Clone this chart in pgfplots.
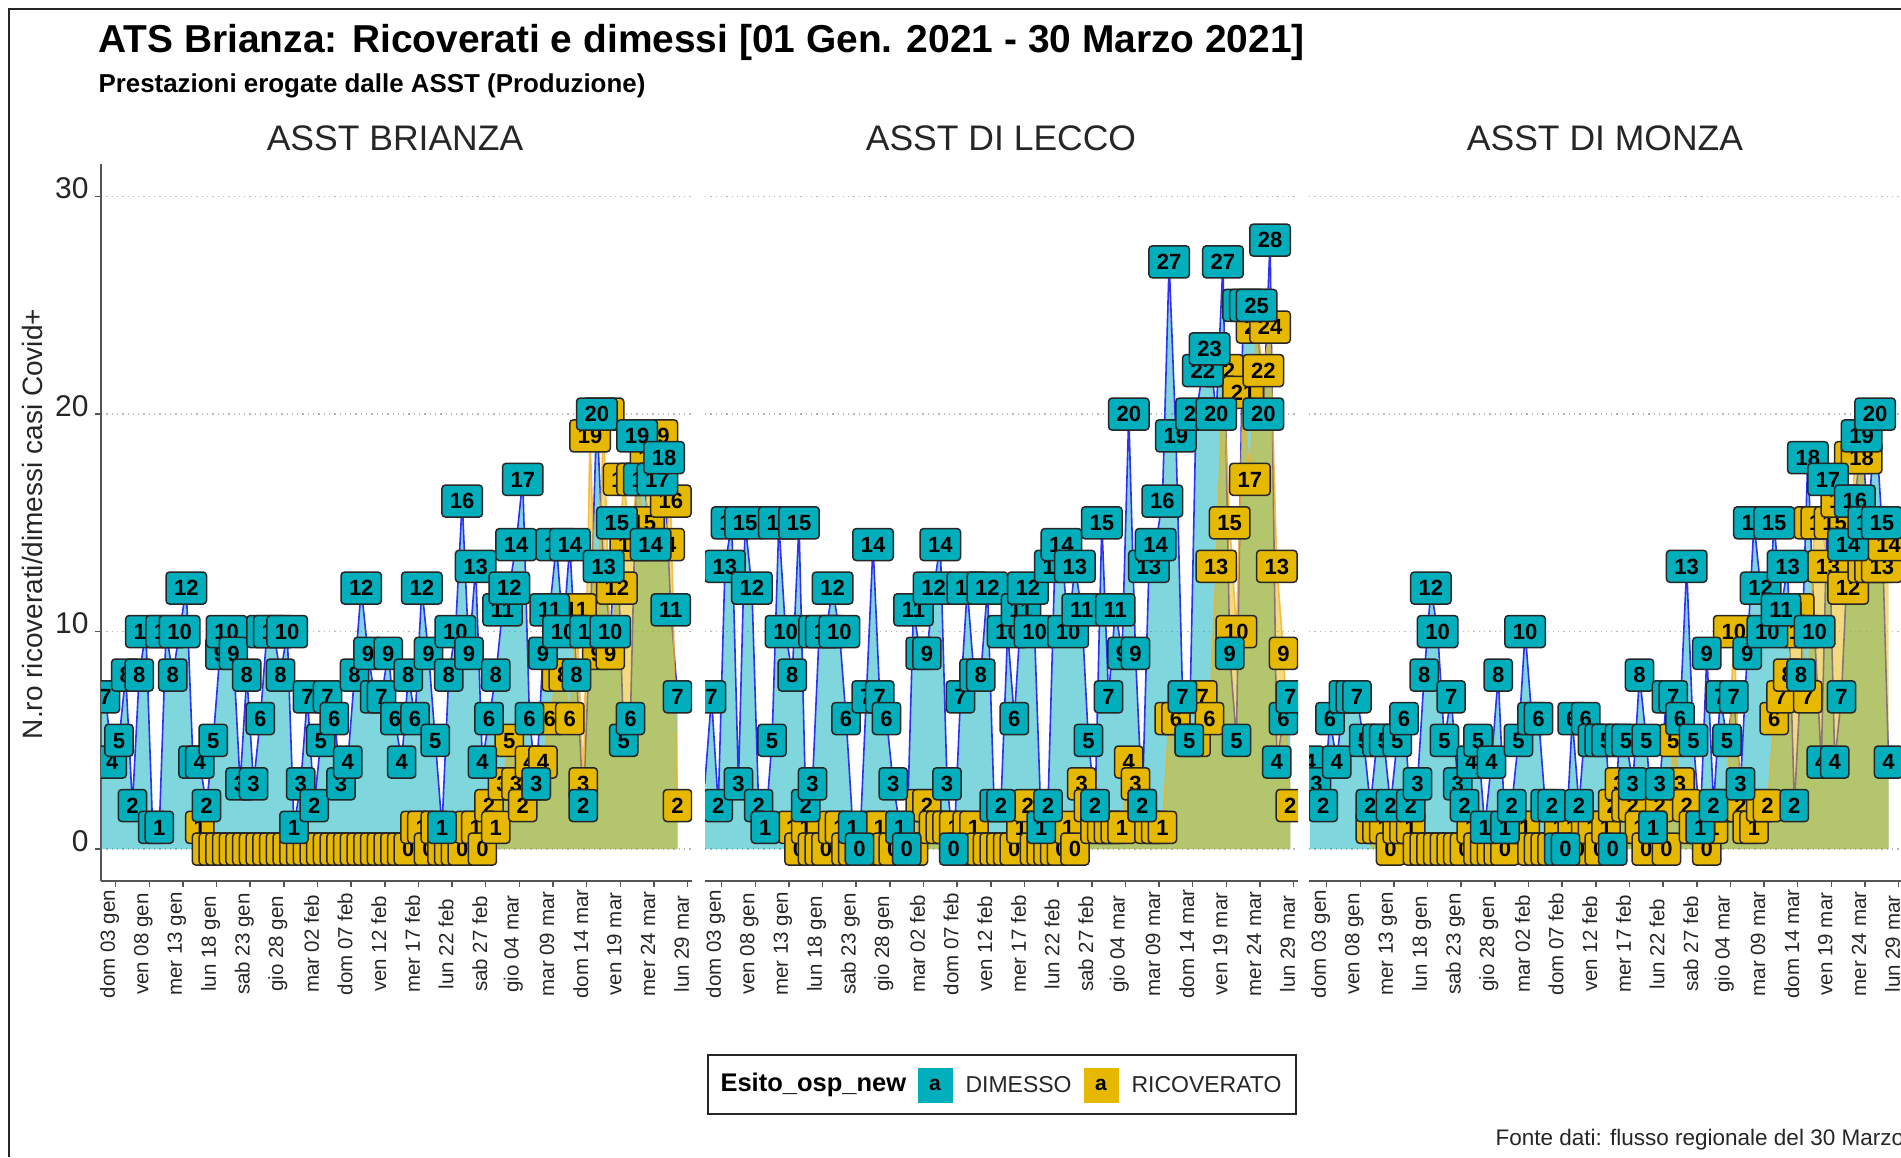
\documentclass[border=0pt]{standalone}
\usepackage{fontspec}
\setmainfont{Liberation Sans}
\usepackage{pgfplots}
\usepackage{pgfplotstable}
\pgfplotsset{compat=1.18}
\definecolor{tealc}{HTML}{00AFBB}
\definecolor{yelc}{HTML}{E7B800}
\definecolor{bluec}{HTML}{2F2FF5}
\definecolor{oranc}{HTML}{F5AE20}
\definecolor{axc}{HTML}{555555}

% ASST BRIANZA
\pgfplotstableread[row sep=\\]{x y\\
0 6\\1 7\\2 4\\3 5\\4 8\\5 2\\6 8\\7 10\\8 1\\9 1\\10 10\\11 8\\12 10\\13 12\\14 4\\15 4\\16 2\\17 5\\18 9\\19 10\\20 9\\21 3\\22 8\\23 3\\24 6\\25 10\\26 10\\27 8\\28 10\\29 1\\30 3\\31 7\\32 2\\33 5\\34 7\\35 6\\36 3\\37 4\\38 8\\39 12\\40 9\\41 7\\42 7\\43 9\\44 6\\45 4\\46 8\\47 6\\48 12\\49 9\\50 5\\51 1\\52 8\\53 10\\54 16\\55 9\\56 13\\57 4\\58 6\\59 8\\60 11\\61 12\\62 14\\63 17\\64 6\\65 3\\66 9\\67 11\\68 14\\69 10\\70 14\\71 8\\72 2\\73 10\\74 20\\75 13\\76 10\\77 15\\78 5\\79 6\\80 19\\81 17\\82 14\\83 17\\84 18\\85 11\\86 7\\
}\dimA
\pgfplotstableread[row sep=\\]{x y\\
15 1\\16 0\\17 0\\18 0\\19 0\\20 0\\21 0\\22 0\\23 0\\24 0\\25 0\\26 0\\27 0\\28 0\\29 0\\30 0\\31 0\\32 0\\33 0\\34 0\\35 0\\36 0\\37 0\\38 0\\39 0\\40 0\\41 0\\42 0\\43 0\\44 0\\45 0\\46 0\\47 1\\48 1\\49 0\\50 1\\51 0\\52 0\\53 0\\54 0\\55 1\\56 1\\57 0\\58 2\\59 1\\60 3\\61 5\\62 3\\63 2\\64 4\\65 3\\66 4\\67 6\\68 8\\69 8\\70 6\\71 11\\72 3\\73 19\\74 9\\75 20\\76 9\\77 12\\78 17\\79 14\\80 17\\81 15\\82 18\\83 19\\84 14\\85 16\\86 2\\
}\ricA
% ASST DI LECCO
\pgfplotstableread[row sep=\\]{x y\\
0 3\\1 7\\2 2\\3 13\\4 15\\5 3\\6 15\\7 12\\8 2\\9 1\\10 5\\11 15\\12 10\\13 8\\14 15\\15 2\\16 3\\17 10\\18 10\\19 12\\20 10\\21 6\\22 1\\23 0\\24 7\\25 14\\26 7\\27 6\\28 3\\29 1\\30 0\\31 11\\32 9\\33 9\\34 12\\35 14\\36 3\\37 0\\38 7\\39 12\\40 8\\41 8\\42 12\\43 2\\44 2\\45 10\\46 6\\47 11\\48 12\\49 10\\50 1\\51 2\\52 13\\53 14\\54 10\\55 13\\56 11\\57 5\\58 2\\59 15\\60 7\\61 11\\62 9\\63 20\\64 9\\65 2\\66 13\\67 14\\68 16\\69 27\\70 19\\71 7\\72 5\\73 20\\74 22\\75 23\\76 20\\77 27\\78 9\\79 5\\80 25\\81 25\\82 25\\83 20\\84 28\\85 4\\86 6\\87 7\\
}\dimB
\pgfplotstableread[row sep=\\]{x y\\
13 1\\14 0\\15 1\\16 0\\17 0\\18 0\\19 1\\20 1\\21 0\\22 0\\23 0\\24 0\\25 1\\26 1\\27 0\\28 0\\29 1\\30 0\\31 0\\32 2\\33 2\\34 1\\35 1\\36 1\\37 1\\38 0\\39 1\\40 1\\41 0\\42 0\\43 0\\44 0\\45 0\\46 0\\47 1\\48 2\\49 0\\50 0\\51 0\\52 0\\53 0\\54 1\\55 0\\56 3\\57 2\\58 1\\59 1\\60 1\\61 1\\62 1\\63 4\\64 3\\65 2\\66 1\\67 1\\68 1\\69 6\\70 6\\71 7\\72 5\\73 5\\74 7\\75 6\\76 13\\77 22\\78 15\\79 10\\80 21\\81 17\\82 24\\83 22\\84 24\\85 13\\86 9\\87 2\\
}\ricB
% ASST DI MONZA
\pgfplotstableread[row sep=\\]{x y\\
0 4\\1 3\\2 2\\3 6\\4 4\\5 7\\6 7\\7 7\\8 5\\9 2\\10 5\\11 5\\12 2\\13 5\\14 6\\15 2\\16 3\\17 8\\18 12\\19 10\\20 5\\21 7\\22 3\\23 2\\24 4\\25 5\\26 1\\27 4\\28 8\\29 1\\30 2\\31 5\\32 10\\33 6\\34 6\\35 2\\36 2\\37 0\\38 0\\39 6\\40 2\\41 6\\42 5\\43 5\\44 5\\45 0\\46 5\\47 5\\48 3\\49 8\\50 5\\51 1\\52 3\\53 7\\54 7\\55 6\\56 13\\57 5\\58 1\\59 9\\60 2\\61 7\\62 5\\63 7\\64 3\\65 9\\66 15\\67 12\\68 10\\69 15\\70 11\\71 13\\72 2\\73 8\\74 18\\75 10\\76 4\\77 17\\78 4\\79 7\\80 14\\81 16\\82 19\\83 15\\84 20\\85 15\\86 4\\
}\dimC
\pgfplotstableread[row sep=\\]{x y\\
9 1\\10 1\\11 1\\12 0\\13 1\\14 1\\15 1\\16 0\\17 0\\18 0\\19 0\\20 0\\21 0\\22 0\\23 0\\24 1\\25 0\\26 0\\27 0\\28 0\\29 0\\30 1\\31 1\\32 1\\33 0\\34 0\\35 0\\36 0\\37 1\\38 0\\39 1\\40 0\\41 1\\42 1\\43 0\\44 1\\45 2\\46 3\\47 2\\48 2\\49 1\\50 0\\51 1\\52 2\\53 0\\54 5\\55 3\\56 2\\57 1\\58 1\\59 0\\60 1\\61 2\\62 2\\63 10\\64 2\\65 1\\66 1\\67 2\\68 2\\69 6\\70 7\\71 8\\72 11\\73 10\\74 7\\75 15\\76 15\\77 13\\78 15\\79 16\\80 12\\81 18\\82 18\\83 13\\84 13\\85 13\\86 14\\
}\ricC

\tikzset{
  lab/.style={font=\fontsize{22}{24}\selectfont\bfseries, text=black, anchor=center,
    draw=black!85, line width=1.5pt, rounded corners=3.5pt,
    inner xsep=8pt, inner ysep=0pt, minimum height=32pt, text height=15.5pt, text depth=0pt},
}
\pgfplotsset{
  panel/.style={
    scale only axis, height=717pt,
    anchor=south west,
    clip mode=individual, clip marker paths=true,
    xmin=0.33, ymin=-1.47, ymax=31.5,
    axis x line=bottom, axis y line=left,
    axis line style={draw=axc, line width=1.5pt, -},
    xtick={2.5,7.5,12.5,17.5,22.5,27.5,32.5,37.5,42.5,47.5,52.5,57.5,62.5,67.5,72.5,77.5,82.5,87.5},
    xticklabels={dom 03 gen,ven 08 gen,mer 13 gen,lun 18 gen,sab 23 gen,gio 28 gen,mar 02 feb,dom 07 feb,ven 12 feb,mer 17 feb,lun 22 feb,sab 27 feb,gio 04 mar,mar 09 mar,dom 14 mar,ven 19 mar,mer 24 mar,lun 29 mar},
    xticklabel style={anchor=center, xshift=-6pt, yshift=-57pt, rotate=90, font=\fontsize{20.5}{24}\selectfont, text=black!85},
    yticklabel style={font=\fontsize{30}{34}\selectfont, text=black!85, yshift=8pt, xshift=-3pt},
    ytick={0,10,20,30},
    tick align=outside, major tick length=6pt,
    tick style={draw=axc, line width=1.5pt},
    ymajorgrids,
    grid style={draw=black!28, line width=1.3pt, dash pattern=on 1.3pt off 4pt},
    /pgf/number format/assume math mode=true,
  },
  noy/.style={y axis line style={draw=none}, y tick style={draw=none}, yticklabels={}},
}
\newcommand{\series}[2]{%
  \addplot[forget plot, draw=none, fill=tealc, fill opacity=0.5] table[x=x,y=y]{#1} \closedcycle;
  \addplot[forget plot, draw=bluec, line width=1.6pt, mark=none] table[x=x,y=y]{#1};
  \addplot[forget plot, draw=none, fill=yelc, fill opacity=0.5] table[x=x,y=y]{#2} \closedcycle;
  \addplot[forget plot, draw=oranc, draw opacity=0.75, line width=1.6pt, mark=none] table[x=x,y=y]{#2};
  \addplot[forget plot, draw=none, mark=none, point meta=y, nodes near coords, nodes near coords style={lab, fill=yelc}] table[x=x,y=y]{#2};
  \addplot[forget plot, draw=none, mark=none, point meta=y, nodes near coords, nodes near coords style={lab, fill=tealc}] table[x=x,y=y]{#1};
}

\begin{document}
\begin{tikzpicture}[x=1pt,y=1pt]
\path[use as bounding box] (0,0) rectangle (1901,1157);
\fill[white] (0,0) rectangle (1901,1157);
\draw[black!85, line width=2pt] (9,0) -- (9,1148) -- (1901,1148);

\begin{axis}[panel, at={(101pt,276pt)}, width=591pt, xmax=88.15]
\series{\dimA}{\ricA}
\end{axis}
\begin{axis}[panel, noy, at={(705pt,276pt)}, width=593pt, xmin=0.033, xmax=88.15]
\series{\dimB}{\ricB}
\end{axis}
\begin{axis}[panel, noy, at={(1309pt,276pt)}, width=592pt, xmin=-0.116, xmax=87.85]
\series{\dimC}{\ricC}
\end{axis}

\node[anchor=west, font=\fontsize{38.9}{44}\selectfont\bfseries] at (95,1115) {ATS Brianza: Ricoverati e dimessi [01 Gen. 2021 - 30 Marzo 2021]};
\node[anchor=west, font=\fontsize{25.9}{30}\selectfont\bfseries] at (95,1071) {Prestazioni erogate dalle ASST (Produzione)};
\node[font=\fontsize{35.5}{40}\selectfont, text=black!85] at (395,1019) {ASST BRIANZA};
\node[font=\fontsize{35.5}{40}\selectfont, text=black!85] at (1001,1019) {ASST DI LECCO};
\node[font=\fontsize{35.5}{40}\selectfont, text=black!85] at (1605,1019) {ASST DI MONZA};
\node[rotate=90, font=\fontsize{28}{32}\selectfont, text=black!85] at (32,633) {N.ro ricoverati/dimessi casi Covid+};

\draw[black!85, line width=1.8pt] (708,43) rectangle (1296,102);
\node[anchor=west, font=\fontsize{25.5}{30}\selectfont\bfseries] at (717,72) {Esito\_osp\_new};
\node[fill=tealc, minimum width=35pt, minimum height=35pt, inner sep=0pt, font=\fontsize{21}{24}\selectfont\bfseries] at (935,72) {a};
\node[anchor=west, font=\fontsize{23}{28}\selectfont, text=black!85] at (962,72) {DIMESSO};
\node[fill=yelc, minimum width=35pt, minimum height=35pt, inner sep=0pt, font=\fontsize{21}{24}\selectfont\bfseries] at (1101,72) {a};
\node[anchor=west, font=\fontsize{23}{28}\selectfont, text=black!85] at (1128,72) {RICOVERATO};
\node[anchor=west, font=\fontsize{22.5}{28}\selectfont, text=black!85] at (1492,17) {Fonte dati: flusso regionale del 30 Marzo 2021};
\end{tikzpicture}
\end{document}
